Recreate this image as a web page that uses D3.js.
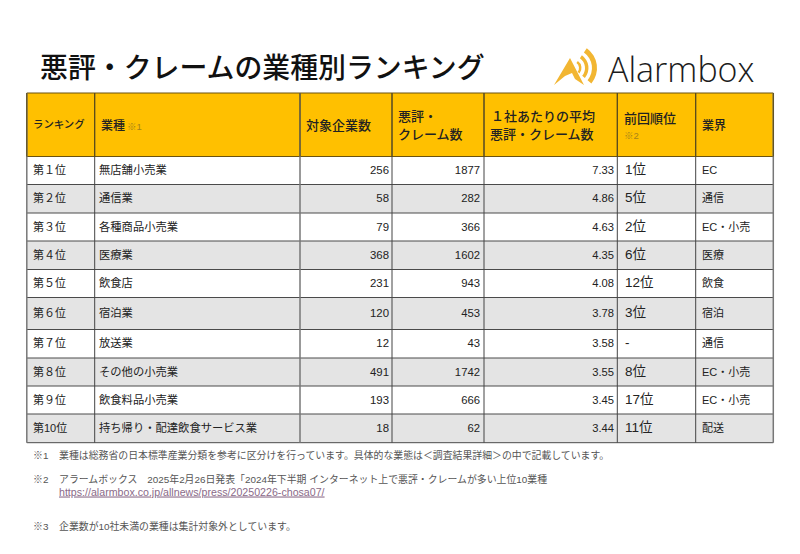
<!DOCTYPE html>
<html><head><meta charset="utf-8">
<script src="https://cdn.jsdelivr.net/npm/d3@7"></script>
<style>html,body{margin:0;padding:0;background:#fff}svg{display:block}text{font-family:"Liberation Sans","Noto Sans CJK JP",sans-serif}</style>
</head><body><svg id="c" width="800" height="554"></svg>
<script>
const ranks=["第１位","第２位","第３位","第４位","第５位","第６位","第７位","第８位","第９位","第10位"];
const industries=["無店舗小売業","通信業","各種商品小売業","医療業","飲食店","宿泊業","放送業","その他の小売業","飲食料品小売業","持ち帰り・配達飲食サービス業"];
const companies=[256,58,79,368,231,120,12,491,193,18];
const complaints=[1877,282,366,1602,943,453,43,1742,666,62];
const averages=["7.33","4.86","4.63","4.35","4.08","3.78","3.58","3.55","3.45","3.44"];
const previous=["1位","5位","2位","6位","12位","3位","-","8位","17位","11位"];
const sectors=["EC","通信","EC・小売","医療","飲食","宿泊","通信","EC・小売","EC・小売","配送"];
const columnEdges=[26.8,94.7,300,392,484,617.3,695.7,773.3];
const rowEdges=[93,156.5,184.5,213,241,269.5,297.5,329.5,358,386,414,442.7];
const rowIndex=d3.range(10);
const svg=d3.select("#c");
const ink="#222";

svg.append("text").attr("x",40).attr("y",78).attr("font-size",27.9).attr("font-weight",500).attr("fill","#111")
  .text("悪評・クレームの業種別ランキング");

// header and row bands
svg.append("rect").attr("x",columnEdges[0]).attr("y",rowEdges[0]).attr("width",columnEdges[7]-columnEdges[0]).attr("height",rowEdges[1]-rowEdges[0]).attr("fill","#ffc000");
svg.selectAll("rect.band").data(rowIndex).join("rect").attr("class","band")
  .attr("x",columnEdges[0]).attr("width",columnEdges[7]-columnEdges[0])
  .attr("y",i=>rowEdges[i+1]).attr("height",i=>rowEdges[i+2]-rowEdges[i+1])
  .attr("fill",i=>i%2?"#e4e4e4":"#fff");

// grid
svg.selectAll("line.h").data(rowEdges).join("line").attr("class","h")
  .attr("x1",columnEdges[0]).attr("x2",columnEdges[7]).attr("y1",d=>d).attr("y2",d=>d)
  .attr("stroke",(d,i)=>i<2?"#6b5310":"#4a4a4a").attr("stroke-width",1);
const thick=new Set([0,2,7]);
svg.selectAll("line.v").data(columnEdges).join("line").attr("class","v")
  .attr("x1",d=>d).attr("x2",d=>d).attr("y1",rowEdges[0]).attr("y2",rowEdges[11])
  .attr("stroke",(d,i)=>thick.has(i)?"#777":"#444").attr("stroke-width",(d,i)=>thick.has(i)?1.5:1);
svg.selectAll("line.vh").data(columnEdges).join("line").attr("class","vh")
  .attr("x1",d=>d).attr("x2",d=>d).attr("y1",rowEdges[0]).attr("y2",rowEdges[1])
  .attr("stroke","#5a4a14").attr("stroke-width",1);

// header
const head=[
 {x:33,s:10.4,y:128,t:"ランキング"},
 {x:101,s:12,y:130,t:"業種"},
 {x:306,s:13,y:130,t:"対象企業数"},
 {x:398,s:13,y:121,t:"悪評・"},
 {x:398,s:13,y:139,t:"クレーム数"},
 {x:491,s:13,y:121,t:"１社あたりの平均"},
 {x:490,s:13,y:139,t:"悪評・クレーム数"},
 {x:624,s:13,y:123,t:"前回順位"},
 {x:702,s:12,y:130,t:"業界"}
];
svg.append("g").selectAll("text").data(head).join("text")
  .attr("x",d=>d.x).attr("y",d=>d.y).attr("font-size",d=>d.s).attr("font-weight",500).attr("fill",ink).text(d=>d.t);
svg.append("text").attr("x",127).attr("y",130).attr("font-size",9.5).attr("fill","#a8841a").text("※1");
svg.append("text").attr("x",624).attr("y",139).attr("font-size",9.5).attr("fill","#a8841a").text("※2");

// body cells
const cy=i=>(rowEdges[i+1]+rowEdges[i+2])/2+3.5;
function col(values,x,anchor,size){
  svg.append("g").selectAll("text").data(rowIndex).join("text")
   .attr("x",x).attr("y",cy).attr("text-anchor",anchor).attr("font-size",size).attr("fill",ink)
   .text(i=>values[i]);
}
col(ranks,33,"start",11);
col(industries,99,"start",11.3);
col(companies,389,"end",11.4);
col(complaints,480,"end",11.3);
col(averages,614,"end",11.2);
col(previous,625,"start",13.5);
col(sectors,702,"start",11);

// logo
const logo=svg.append("g");
const deg=Math.PI/180;
[[6,8.5],[12,15.5],[19,24]].forEach(([r0,r1])=>{
  logo.append("path").attr("transform","translate(573,68)")
   .attr("d",d3.arc().innerRadius(r0).outerRadius(r1).startAngle(35*deg).endAngle(130*deg)())
   .attr("fill","#f2b632");
});
logo.append("path").attr("d",d3.line()([[554,85],[570,58],[584,85],[575,79],[572,73],[565,76]])+"Z").attr("fill","#f2b632");
svg.append("text").attr("x",608).attr("y",81.5).attr("font-size",34).style("font-weight",300).style("font-family","'Open Sans',sans-serif").attr("fill","#1c1c1c").text("Alarmbox");

// notes
const noteX=[33,59];
const notes=[
 ["※1","業種は総務省の日本標準産業分類を参考に区分けを行っています。具体的な業態は＜調査結果詳細＞の中で記載しています。",459],
 ["※2","アラームボックス　2025年2月26日発表「2024年下半期 インターネット上で悪評・クレームが多い上位10業種",483],
 ["※3","企業数が10社未満の業種は集計対象外としています。",530]
];
notes.forEach(n=>{
  svg.append("text").attr("x",noteX[0]).attr("y",n[2]).attr("font-size",9.9).attr("fill","#555").text(n[0]);
  svg.append("text").attr("x",noteX[1]).attr("y",n[2]).attr("font-size",9.9).attr("fill","#555").text(n[1]);
});
svg.append("text").attr("x",noteX[1]).attr("y",495.5).attr("font-size",10.65).attr("fill","#8a6a88").attr("text-decoration","underline").text("https://alarmbox.co.jp/allnews/press/20250226-chosa07/");
</script></body></html>
